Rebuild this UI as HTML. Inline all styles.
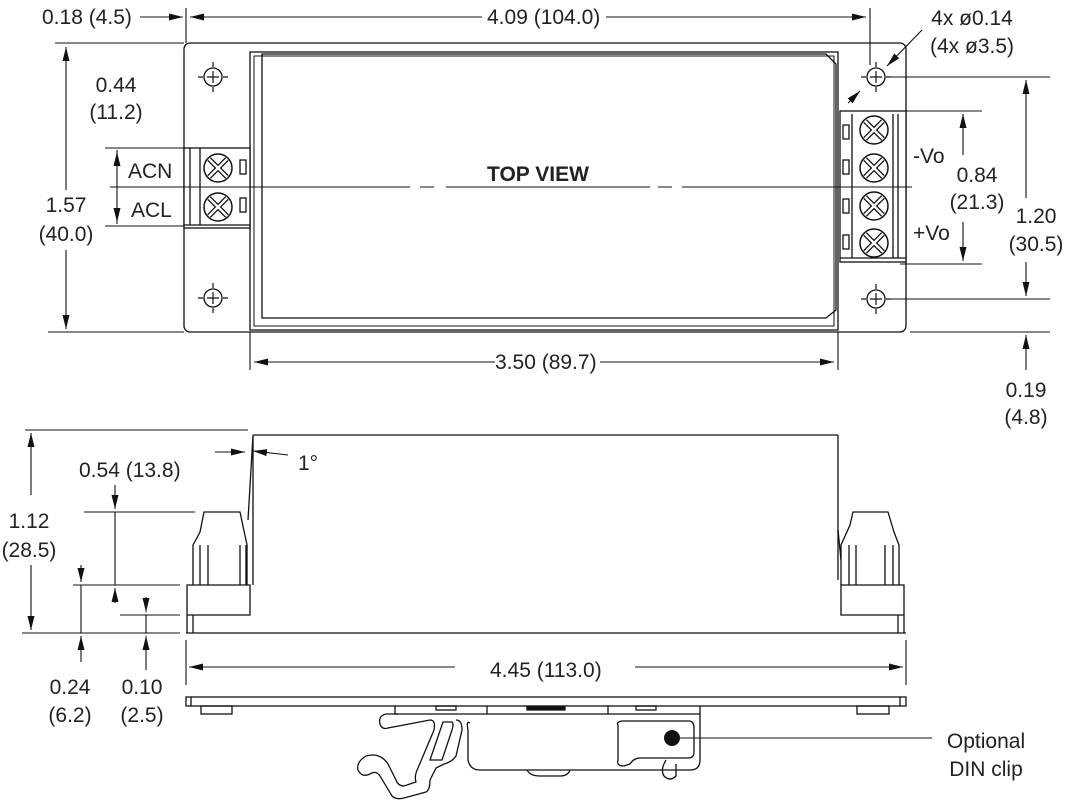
<!DOCTYPE html>
<html><head><meta charset="utf-8"><style>
html,body{margin:0;padding:0;background:#fff}
svg{display:block}
text{font-family:"Liberation Sans",sans-serif;font-size:21px;fill:#222}
</style></head><body>
<svg width="1066" height="802" viewBox="0 0 1066 802" xmlns="http://www.w3.org/2000/svg">
<defs>
<marker id="a" viewBox="0 0 14 10" refX="14" refY="5" markerWidth="14" markerHeight="10" orient="auto-start-reverse" markerUnits="userSpaceOnUse"><path d="M0,1.5 L14,5 L0,8.5 z" fill="#111"/></marker>
<g id="hole"><circle r="9" fill="none" stroke="#111" stroke-width="1.3"/><path d="M-6,0H6M0,-6V6M-15,0H-10M10,0H15M0,-15V-10M0,10V15" stroke="#111" stroke-width="1.2"/></g>
<g id="scr"><circle r="14" fill="#fff" stroke="#111" stroke-width="1.5"/><path d="M-9,-9L9,9M9,-9L-9,9" stroke="#111" stroke-width="5"/><path d="M-9,-9L9,9M9,-9L-9,9" stroke="#fff" stroke-width="2.5"/></g>
</defs>
<g fill="none" stroke="#111" stroke-width="1.3">
<rect x="184" y="43" width="722" height="289" rx="6"/>
<rect x="250" y="52" width="588" height="278"/>
<path d="M254,56 H834 V326 H254 Z" stroke-width="1"/>
<path d="M262,54 H826 L836,64 V310 L826,318 H262 Z"/>
<rect x="184" y="148" width="66" height="80" fill="#fff"/>
<line x1="190" y1="148" x2="190" y2="225"/><line x1="200" y1="148" x2="200" y2="225"/>
<line x1="184" y1="225" x2="250" y2="225"/>
<rect x="240" y="160" width="6" height="14"/><rect x="240" y="198" width="6" height="14"/>
<rect x="840" y="111" width="66" height="151" fill="#fff"/>
<line x1="893" y1="114" x2="893" y2="258"/><line x1="898" y1="114" x2="898" y2="258"/>
<line x1="852" y1="114" x2="852" y2="258"/><line x1="840" y1="258" x2="906" y2="258"/>
<rect x="843" y="125" width="6" height="14"/><rect x="843" y="160" width="6" height="14"/><rect x="843" y="199" width="6" height="14"/><rect x="843" y="235" width="6" height="14"/>
</g>
<use href="#scr" x="218" y="168"/><use href="#scr" x="218" y="207"/>
<use href="#scr" x="874" y="130"/><use href="#scr" x="874" y="168"/><use href="#scr" x="874" y="206"/><use href="#scr" x="874" y="243"/>
<use href="#hole" x="213" y="77"/><use href="#hole" x="213" y="298"/><use href="#hole" x="876" y="77"/><use href="#hole" x="876" y="299"/>
<g stroke="#111" stroke-width="1.1" fill="none">
<path d="M110,187H410M420,187H434M446,187H650M658,187H672M682,187H912"/>
<line x1="186" y1="8" x2="186" y2="43"/><line x1="870" y1="8" x2="870" y2="65"/>
<line x1="190" y1="17" x2="482" y2="17" marker-start="url(#a)"/><line x1="606" y1="17" x2="866" y2="17" marker-end="url(#a)"/>
<line x1="140" y1="17" x2="183" y2="17" marker-end="url(#a)"/>
<line x1="55" y1="43" x2="184" y2="43"/><line x1="48" y1="332" x2="184" y2="332"/>
<line x1="66" y1="47" x2="66" y2="190" marker-start="url(#a)"/><line x1="66" y1="250" x2="66" y2="329" marker-end="url(#a)"/>
<line x1="105" y1="148" x2="184" y2="148"/><line x1="105" y1="226" x2="184" y2="226"/>
<line x1="117" y1="152" x2="117" y2="166" marker-start="url(#a)"/><line x1="117" y1="208" x2="117" y2="222" marker-end="url(#a)"/>
<line x1="117" y1="150" x2="117" y2="224"/>
<line x1="890" y1="77" x2="1050" y2="77"/><line x1="890" y1="299" x2="1050" y2="299"/><line x1="910" y1="332" x2="1050" y2="332"/>
<line x1="900" y1="111" x2="982" y2="111"/><line x1="900" y1="264" x2="982" y2="264"/>
<line x1="963" y1="155" x2="963" y2="114" marker-end="url(#a)"/><line x1="963" y1="222" x2="963" y2="261" marker-end="url(#a)"/>
<line x1="1026" y1="198" x2="1026" y2="80" marker-end="url(#a)"/><line x1="1026" y1="262" x2="1026" y2="296" marker-end="url(#a)"/>
<line x1="1026" y1="370" x2="1026" y2="335" marker-end="url(#a)"/>
<line x1="922" y1="30" x2="887" y2="66" marker-end="url(#a)"/>
<line x1="860" y1="91" x2="848" y2="103" marker-start="url(#a)"/>
<line x1="250" y1="332" x2="250" y2="370"/><line x1="838" y1="332" x2="838" y2="370"/>
<line x1="254" y1="362" x2="495" y2="362" marker-start="url(#a)"/><line x1="600" y1="362" x2="834" y2="362" marker-end="url(#a)"/>
</g>
<text x="487" y="181" style="font-weight:bold">TOP VIEW</text>
<text x="487" y="24">4.09 (104.0)</text>
<text x="42" y="24">0.18 (4.5)</text>
<text x="66" y="212" text-anchor="middle">1.57</text><text x="66" y="241" text-anchor="middle">(40.0)</text>
<text x="116" y="92" text-anchor="middle">0.44</text><text x="116" y="119" text-anchor="middle">(11.2)</text>
<text x="128" y="178">ACN</text><text x="131" y="217">ACL</text>
<text x="972" y="25" text-anchor="middle">4x ø0.14</text><text x="972" y="53" text-anchor="middle">(4x ø3.5)</text>
<text x="913" y="163">-Vo</text><text x="913" y="240">+Vo</text>
<text x="977" y="182" text-anchor="middle">0.84</text><text x="977" y="209" text-anchor="middle">(21.3)</text>
<text x="1036" y="223" text-anchor="middle">1.20</text><text x="1036" y="251" text-anchor="middle">(30.5)</text>
<text x="1026" y="397" text-anchor="middle">0.19</text><text x="1026" y="424" text-anchor="middle">(4.8)</text>
<text x="495" y="369">3.50 (89.7)</text>

<g fill="none" stroke="#111" stroke-width="1.3">
<path d="M253,435 H838 M838,435 V580 M253,435 L248,520 M253,435 V585"/>
<line x1="186" y1="633" x2="906" y2="633"/>
<path d="M187,585 H250 V615 H187 Z M187,615 V633 M193,615 V633"/>
<path d="M193,585 V545 L200,532 L204,512 H240 L247,545 V585"/>
<path d="M200,545 V585 M208,545 V585 M240,545 V585 M246,545 V585"/>
<path d="M841,585 H904 V615 H841 Z M904,615 V633 M898,615 V633"/>
<path d="M841,585 V545 L850,525 L853,512 H888 L894,532 L899,545 V585"/>
<path d="M849,545 V585 M856,545 V585 M885,545 V585 M893,545 V585"/>
<line x1="838" y1="530" x2="841" y2="560"/>
</g>
<g stroke="#111" stroke-width="1.1" fill="none">
<line x1="25" y1="430" x2="248" y2="430"/>
<line x1="31" y1="495" x2="31" y2="433" marker-end="url(#a)"/><line x1="31" y1="565" x2="31" y2="630" marker-end="url(#a)"/>
<line x1="84" y1="512" x2="195" y2="512"/><line x1="73" y1="585" x2="180" y2="585"/><line x1="120" y1="615" x2="180" y2="615"/><line x1="22" y1="633" x2="180" y2="633"/>
<line x1="115" y1="485" x2="115" y2="509" marker-end="url(#a)"/><line x1="115" y1="512" x2="115" y2="585"/><line x1="115" y1="603" x2="115" y2="588" marker-end="url(#a)"/>
<line x1="81" y1="565" x2="81" y2="582" marker-end="url(#a)"/><line x1="81" y1="585" x2="81" y2="633"/><line x1="81" y1="662" x2="81" y2="636" marker-end="url(#a)"/>
<line x1="146" y1="597" x2="146" y2="612" marker-end="url(#a)"/><line x1="146" y1="615" x2="146" y2="633"/><line x1="146" y1="670" x2="146" y2="636" marker-end="url(#a)"/>
<line x1="215" y1="452" x2="245" y2="452" marker-end="url(#a)"/><line x1="288" y1="455" x2="253" y2="451" marker-end="url(#a)"/>
<line x1="186" y1="640" x2="186" y2="685"/><line x1="906" y1="640" x2="906" y2="685"/>
<line x1="455" y1="667" x2="189" y2="667" marker-end="url(#a)"/><line x1="635" y1="667" x2="903" y2="667" marker-end="url(#a)"/>
</g>
<text x="298" y="470">1°</text>
<text x="79" y="477">0.54 (13.8)</text>
<text x="29" y="528" text-anchor="middle">1.12</text><text x="29" y="557" text-anchor="middle">(28.5)</text>
<text x="70" y="694" text-anchor="middle">0.24</text><text x="70" y="722" text-anchor="middle">(6.2)</text>
<text x="142" y="694" text-anchor="middle">0.10</text><text x="142" y="722" text-anchor="middle">(2.5)</text>
<text x="490" y="677">4.45 (113.0)</text>

<g fill="none" stroke="#111" stroke-width="1.3">
<rect x="186" y="697" width="720" height="9"/>
<line x1="191" y1="697" x2="191" y2="706"/><line x1="900" y1="697" x2="900" y2="706"/>
<rect x="201" y="706" width="31" height="8"/><rect x="857" y="706" width="32" height="8"/>
<path d="M395,706 V714 H700 V706 M487,706 V714 M608,706 V714"/>
<rect x="436" y="706" width="20" height="4"/><rect x="636" y="706" width="20" height="4"/>
<path d="M527,706 V710 H565 V706" fill="#111"/>
<path d="M398,714 L386,714 Q378,716 380,724 Q382,730 388,728 L430,720 Q436,720 434,730 L418,768 Q414,776 416,782 L404,786 Q398,786 396,780 L388,764 Q380,752 366,756 Q356,762 358,770 Q362,778 370,774 Q376,770 380,776 L392,796 Q396,800 404,798 L426,792 Q430,790 430,780 L436,768 L444,764 Q452,762 456,756 L462,730 Q462,720 456,720"/>
<path d="M443,722 H452 Q454,724 452,730 L442,760 H430 Z"/>
<path d="M470,723 Q466,720 468,730 V760 Q470,770 480,770 H690 Q700,770 700,760 V714"/>
<path d="M618,725 Q616,722 622,721 H690 Q694,722 694,728 V752 Q694,758 688,758 H640 Q634,758 630,764 L624,766 Q616,766 618,760 Z"/>
<path d="M666,760 Q660,770 664,776 Q670,782 676,776 V764"/>
<path d="M527,770 Q530,776 540,776 H560 Q568,776 570,770"/>
</g>
<circle cx="672" cy="738" r="8" fill="#111"/>
<line x1="680" y1="738" x2="932" y2="738" stroke="#111" stroke-width="1.1"/>
<text x="986" y="748" text-anchor="middle">Optional</text><text x="986" y="776" text-anchor="middle">DIN clip</text>
</svg>
</body></html>
